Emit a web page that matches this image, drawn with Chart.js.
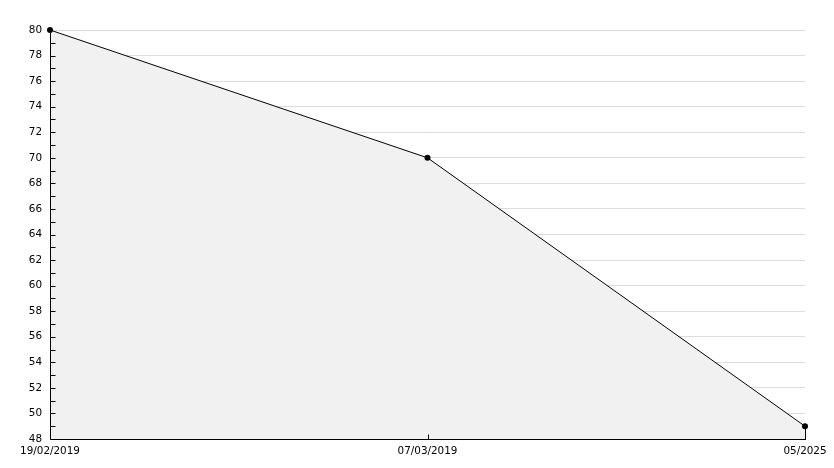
<!DOCTYPE html>
<html>
<head>
<meta charset="utf-8">
<script src="https://cdn.jsdelivr.net/npm/chart.js@4/dist/chart.umd.min.js"></script>
<style>
  html, body { margin: 0; padding: 0; background: #fff; }
  #wrap { width: 834px; height: 468px; }
</style>
</head>
<body>
<div id="wrap"><canvas id="chart"></canvas></div>
<script>
// chart data
const dates = ["19/02/2019", "07/03/2019", "05/2025"];
const values = [80, 70, 49];
const yMin = 48;
const yMax = 80;

// axis lines, small inward ticks, right edge of the filled area
const innerTicks = {
    id: "innerTicks",
    afterDatasetsDraw(chart) {
        const ctx = chart.ctx;
        const x = chart.scales.x, y = chart.scales.y;
        const left = Math.round(x.left) + 0.5;
        const bottom = Math.round(y.bottom) + 0.5;
        ctx.save();
        ctx.strokeStyle = "#000";
        ctx.lineWidth = 1;
        ctx.beginPath();
        // axes
        ctx.moveTo(left, Math.round(y.top) + 3);
        ctx.lineTo(left, bottom);
        ctx.lineTo(Math.round(x.right) + 1, bottom);
        for (let v = yMin; v < yMax; v++) {
            const py = Math.round(y.getPixelForValue(v)) + 0.5;
            ctx.moveTo(left, py);
            ctx.lineTo(left + 5, py);
        }
        for (let i = 1; i < dates.length - 1; i++) {
            const px = Math.round(x.getPixelForValue(i)) + 0.5;
            ctx.moveTo(px, bottom);
            ctx.lineTo(px, bottom - 5);
        }
        const last = dates.length - 1;
        const lx = Math.round(x.getPixelForValue(last)) + 0.5;
        ctx.moveTo(lx, y.getPixelForValue(values[last]));
        ctx.lineTo(lx, bottom);
        ctx.stroke();
        ctx.restore();
    }
};

new Chart(document.getElementById("chart"), {
    type: "line",
    data: {
        labels: dates,
        datasets: [{
            data: values,
            borderColor: "#000",
            borderWidth: 1,
            backgroundColor: "#f1f1f1",
            fill: "start",
            tension: 0,
            clip: false,
            pointRadius: 3,
            pointBackgroundColor: "#000",
            pointBorderColor: "#000",
            pointBorderWidth: 0
        }]
    },
    options: {
        responsive: true,
        maintainAspectRatio: false,
        animation: false,
        layout: { padding: { top: 30, right: 29, left: 0, bottom: 0 } },
        plugins: {
            legend: { display: false },
            tooltip: { enabled: false }
        },
        scales: {
            x: {
                offset: false,
                grid: { display: false, drawTicks: false },
                border: { display: false },
                ticks: {
                    color: "#000",
                    font: { family: "DejaVu Sans", size: 10.4 },
                    padding: 6,
                    maxRotation: 0,
                    autoSkip: false
                },
                afterFit(s) { s.height = 29; }
            },
            y: {
                min: yMin,
                max: yMax,
                grid: {
                    drawTicks: false,
                    color: c => (c.tick && c.tick.value % 2 === 0) ? "#dcdcdc" : "rgba(0,0,0,0)"
                },
                border: { display: false },
                ticks: {
                    stepSize: 1,
                    autoSkip: false,
                    color: "#000",
                    font: { family: "DejaVu Sans", size: 10.4 },
                    padding: 8,
                    callback: v => v % 2 === 0 ? v : ""
                },
                afterFit(s) { s.width = 50; }
            }
        }
    },
    plugins: [innerTicks]
});
</script>
</body>
</html>
